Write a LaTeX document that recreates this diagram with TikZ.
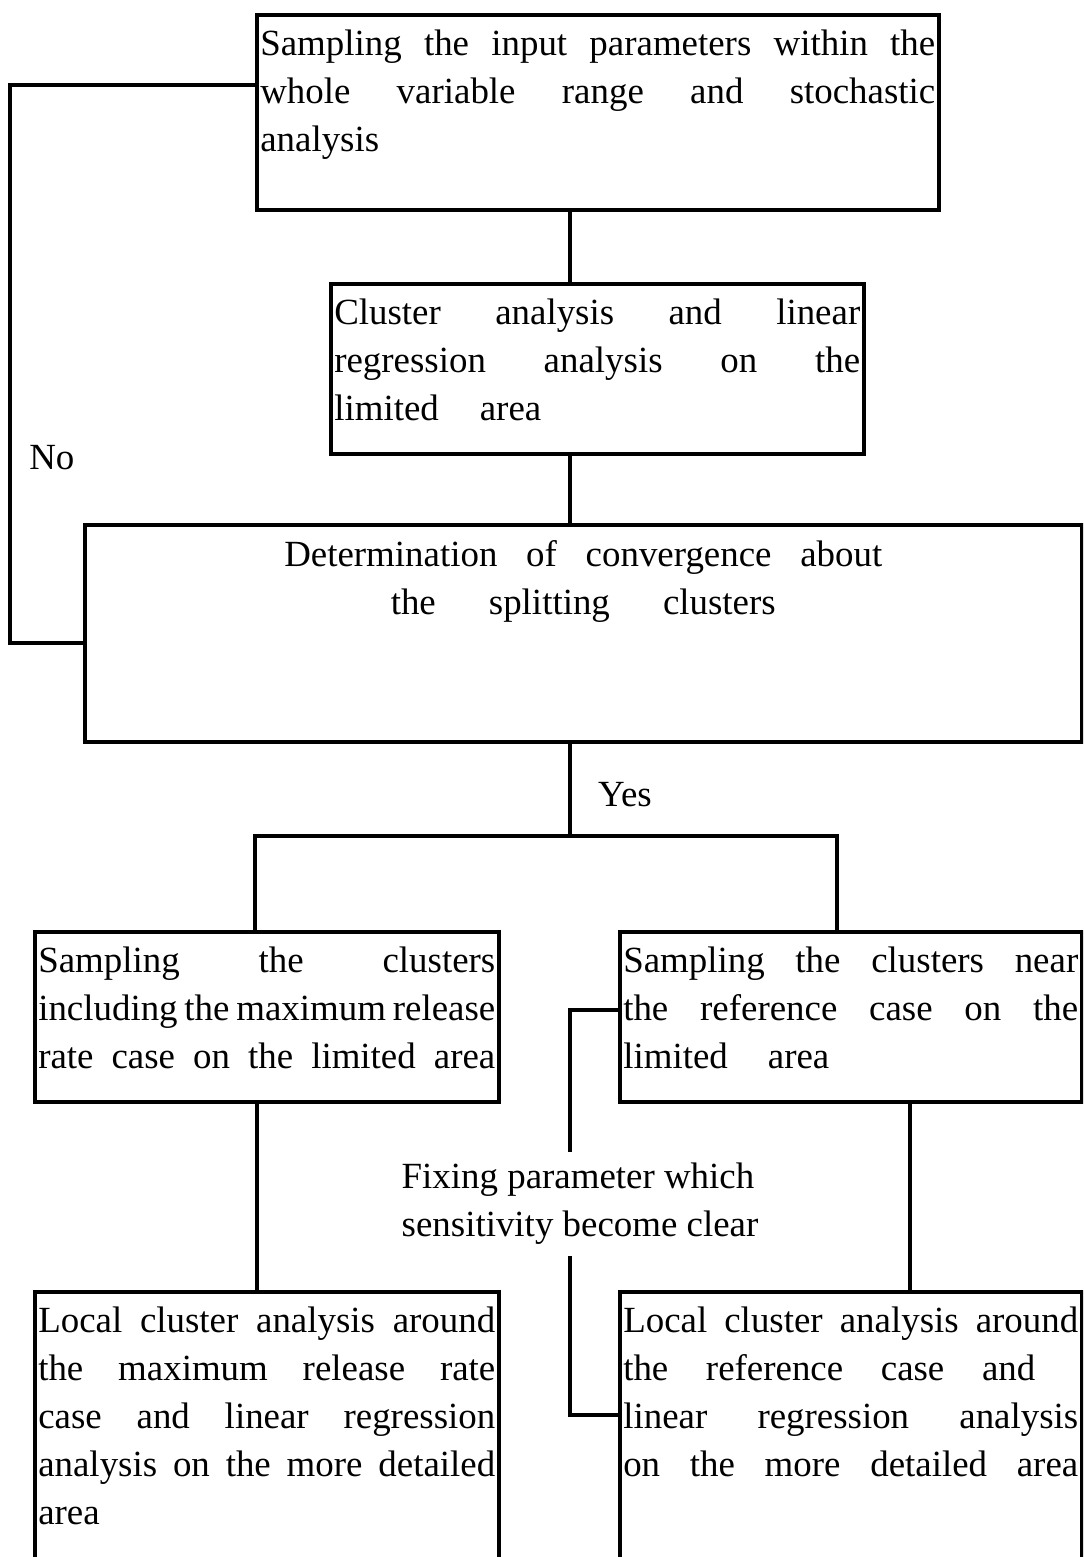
\documentclass[tikz,border=0pt]{standalone}
\usepackage{fontspec}
\setmainfont{Liberation Serif}
\usepackage{tikz}
\usetikzlibrary{positioning}

\newcommand{\jline}[2][\linewidth]{\makebox[#1][s]{#2}\par}
\newcommand{\boxbody}[3]{\parbox[c][#2][t]{\dimexpr#1-2pt\relax}{\vspace*{4.4pt}#3}}

\begin{document}
\begin{tikzpicture}[
    box/.style={rectangle, draw=black, line width=1pt, anchor=north west, inner xsep=1pt, inner ysep=0pt, font=\fontsize{10.5}{13.66}\selectfont},
    wire/.style={line width=1pt, draw=black},
    lbl/.style={inner sep=0pt, font=\fontsize{10.5}{13.66}\selectfont}
]

\useasboundingbox (0,0) rectangle (10.83,-15.57);
\clip (0,0) rectangle (10.83,-15.57);

\node[box] (sampling) at (2.55,-0.13) {\boxbody{6.82cm}{1.95cm}{%
  \jline{Sampling the input parameters within the}
  \jline{whole variable range and stochastic}
  analysis}};

\node[box] (cluster) at (3.29,-2.82) {\boxbody{5.33cm}{1.70cm}{%
  \jline{Cluster analysis and linear}
  \jline{regression analysis on the}
  \jline[2.07cm]{limited area}}};

\node[box] (converge) at (0.83,-5.23) {\boxbody{9.97cm}{2.17cm}{\centering
  \makebox[5.98cm][s]{Determination of convergence about}\par
  \makebox[3.85cm][s]{the splitting clusters}\par}};

\node[box] (maxcase) at (0.33,-9.30) {\boxbody{4.64cm}{1.70cm}{%
  \jline{Sampling the clusters}
  \jline{including the maximum release}
  \jline{rate case on the limited area}}};

\node[box] (refcase) at (6.18,-9.30) {\boxbody{4.62cm}{1.70cm}{%
  \jline{Sampling the clusters near}
  \jline{the reference case on the}
  \jline[2.06cm]{limited area}}};

\node[box] (maxlocal) at (0.33,-12.90) {\boxbody{4.64cm}{3.0cm}{%
  \jline{Local cluster analysis around}
  \jline{the maximum release rate}
  \jline{case and linear regression}
  \jline{analysis on the more detailed}
  area}};

\node[box] (reflocal) at (6.18,-12.90) {\boxbody{4.62cm}{3.0cm}{%
  \jline{Local cluster analysis around}
  \jline[4.12cm]{the reference case and}
  \jline{linear regression analysis}
  \jline{on the more detailed area}}};

\node[lbl, align=left, inner ysep=3pt] (fixing) at (5.80,-12.04) {Fixing parameter which\\sensitivity become clear};

\coordinate (spine) at (5.70,-8.36);
\coordinate (splitL) at (2.55,-8.36);
\coordinate (splitR) at (8.37,-8.36);
\coordinate (loopB) at (0.10,-6.43);
\coordinate (loopT) at (0.10,-0.85);
\coordinate (dropL) at (2.57,-11.95);
\coordinate (dropR) at (9.10,-11.95);
\coordinate (fixA) at (5.70,-10.10);
\coordinate (fixB) at (5.70,-14.15);

\draw[wire] (sampling.south -| spine) -- (cluster.north -| spine);
\draw[wire] (cluster.south -| spine) -- (converge.north -| spine);
\draw[wire] (converge.south -| spine) -- node[lbl, right=7.5pt, pos=0.55] (yes) {Yes} (spine);
\draw[wire] (maxcase.north -| splitL) -- (splitL) -- (splitR) -- (refcase.north -| splitR);
\draw[wire] (converge.west |- loopB) -- (loopB) -- node[lbl, right=5pt, pos=0.333] (no) {No} (loopT) -- (sampling.west |- loopT);
\draw[wire] (maxcase.south -| dropL) -- (maxlocal.north -| dropL);
\draw[wire] (refcase.south -| dropR) -- (reflocal.north -| dropR);
\draw[wire] (refcase.west |- fixA) -- (fixA) -- (fixing.north -| fixA);
\draw[wire] (fixing.south -| fixB) -- (fixB) -- (reflocal.west |- fixB);

\end{tikzpicture}
\end{document}
